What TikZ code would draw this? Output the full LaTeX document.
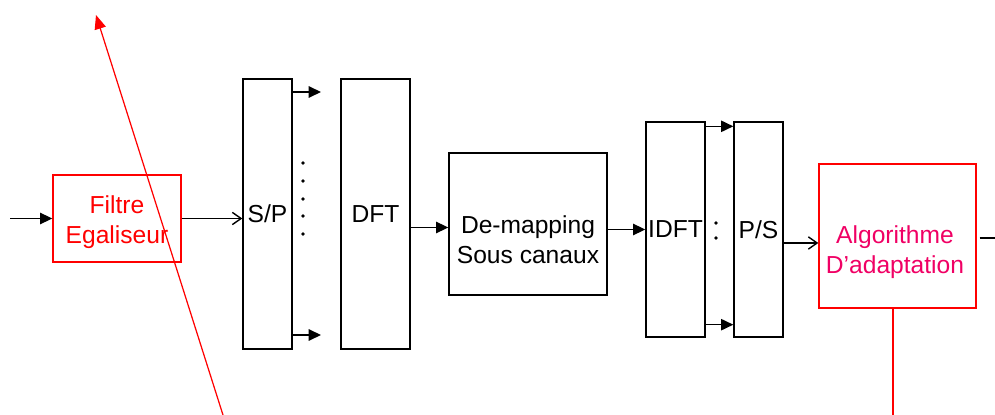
\documentclass[tikz,border=0pt]{standalone}
\usepackage{fontspec}
\setmainfont{Liberation Sans}
\usetikzlibrary{arrows.meta}
\definecolor{algocol}{RGB}{240,0,100}
\tikzset{
  blk/.style={draw,line width=0.8pt,inner sep=0pt,align=center},
  redblk/.style={draw=red,line width=0.8pt,inner sep=0pt,align=center},
  sig/.style={line width=0.8pt,-{Triangle[length=7pt,width=6.5pt]}},
  opensig/.style={line width=0.8pt,-{Straight Barb[length=5pt,width=7pt]}},
  lbl/.style={font=\fontsize{14}{17}\selectfont,align=center}
}
\begin{document}
\begin{tikzpicture}[x=0.02cm,y=-0.02cm]
\useasboundingbox (0,0) rectangle (995,415);
\node[redblk,minimum width=2.56cm,minimum height=1.74cm] (filt) at (117,218.5) {};
\node[lbl,text=red] (filttxt) at (117,222) {Filtre\\Egaliseur};
\node[blk,minimum width=0.98cm,minimum height=5.4cm,lbl] (sp) at (267.5,214) {S/P};
\node[blk,minimum width=1.38cm,minimum height=5.4cm,lbl] (dft) at (375.5,214) {DFT};
\node[blk,minimum width=3.16cm,minimum height=2.84cm] (demap) at (528,224) {};
\node[lbl] (demaptxt) at (528,240) {De-mapping\\Sous canaux};
\node[blk,minimum width=1.18cm,minimum height=4.3cm,lbl] (idft) at (675.5,229.5) {IDFT};
\node[blk,minimum width=0.98cm,minimum height=4.3cm,lbl] (ps) at (758.5,229.5) {P/S};
\node[redblk,minimum width=3.14cm,minimum height=2.88cm] (algo) at (897.5,236) {};
\node[lbl,text=algocol] (algotxt) at (895,252) {Algorithme\\D’adaptation};
\coordinate (in) at (10,218.5);
\coordinate (sp1) at (321,92);
\coordinate (sp2) at (321,335);
\coordinate (out) at (995,238);
\coordinate (fb) at (893,415);
\coordinate (rb) at (223,415);
\coordinate (rt) at (96,15);
\draw[sig] (in) -- (filt.west);
\draw[opensig] (filt.east) -- (filt.east -| sp.west);
\draw[sig] (sp1 -| sp.east) -- (sp1);
\draw[sig] (sp2 -| sp.east) -- (sp2);
\foreach \y in {163,181,199,216,234}
  \fill (303,\y) circle (1.8);
\draw[sig] ([yshift=-0.07cm]dft.east |- demap.center) -- ([yshift=-0.07cm]demap.west);
\draw[sig] (demap.east |- idft.center) -- (idft.west);
\draw[sig] ([yshift=-0.1cm]idft.north east) -- ([yshift=-0.1cm]ps.north west);
\draw[sig] ([yshift=0.26cm]idft.south east) -- ([yshift=0.26cm]ps.south west);
\foreach \y in {223,238}
  \fill (716,\y) circle (1.9);
\draw[opensig] ([yshift=-0.27cm]ps.east) -- ([yshift=-0.27cm]ps.east -| algo.west);
\draw[line width=0.8pt] ([xshift=0.06cm]algo.east |- out) -- (out);
\draw[red,line width=0.8pt] (fb |- algo.south) -- (fb);
\draw[red,line width=0.7pt,-{Triangle[length=8pt,width=6.5pt]}] (rb) -- (rt);
\end{tikzpicture}
\end{document}
